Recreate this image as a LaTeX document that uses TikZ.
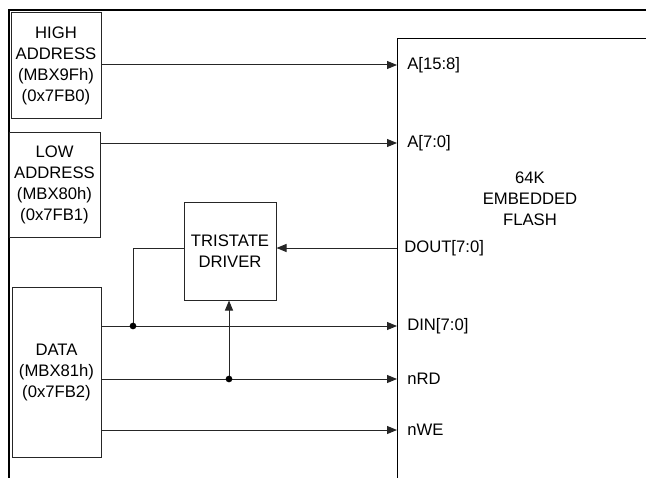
\documentclass[tikz,border=0pt]{standalone}
\usepackage{fontspec}
\setmainfont{Liberation Sans}
\usetikzlibrary{arrows.meta}
\begin{document}
\begin{tikzpicture}[x=0.75pt,y=-0.75pt,
  font=\fontsize{12.5}{15.75}\selectfont,
  box/.style={draw=black!85, line width=0.75pt, inner sep=0pt, align=center},
  wire/.style={line width=0.75pt, draw=black!85},
  arr/.style={wire, -{Triangle[length=7.5pt,width=6pt]}},
  dot/.style={circle, fill=black, inner sep=0pt, minimum size=5pt},
  pin/.style={anchor=west, inner sep=0pt}]
\useasboundingbox (0,0) rectangle (646,478);
% outer frame
\draw[line width=1.6pt] (646,10) -- (9,10) -- (9,478);
% flash block (extends beyond the picture)
\coordinate (fl) at (397,39);
\draw[line width=0.75pt] (646,39) -- (fl) -- (397,478);
\node[align=center, inner sep=0pt] (flash) at (530,199) {64K\\EMBEDDED\\FLASH};
% register boxes
\node[box, minimum width=67.5pt, minimum height=78.75pt] (high) at (56,65.5) {HIGH\\ADDRESS\\(MBX9Fh)\\(0x7FB0)};
\node[box, minimum width=68.25pt, minimum height=78.75pt] (low) at (54.5,184.5) {LOW\\ADDRESS\\(MBX80h)\\(0x7FB1)};
\node[box, minimum width=66.75pt, minimum height=127.5pt] (data) at (56.5,372) {DATA\\(MBX81h)\\(0x7FB2)};
\node[box, minimum width=69pt, minimum height=73.5pt] (tri) at (230,251) {TRISTATE\\DRIVER};
% pin coordinates on the flash edge
\coordinate (pa1) at (397,65);
\coordinate (pa0) at (397,143);
\coordinate (pdout) at (397,248);
\coordinate (pdin) at (397,326);
\coordinate (prd) at (397,379);
\coordinate (pwe) at (397,430);
\coordinate (j1) at (133,326);
\coordinate (j2) at (229,379);
% pin labels
\node[pin] (la1) at (407,65) {A[15:8]};
\node[pin] (la0) at (407,143) {A[7:0]};
\node[pin] (ldout) at (404,248) {DOUT[7:0]};
\node[pin] (ldin) at (407,326) {DIN[7:0]};
\node[pin] (lrd) at (407,379) {nRD};
\node[pin] (lwe) at (407,430) {nWE};
% connectors
\draw[arr] (high.east |- pa1) -- (pa1);
\draw[arr] (low.east |- pa0) -- (pa0);
\draw[arr] (pdout) -- (tri.east |- pdout);
\draw[wire] (tri.west |- pdout) -| (j1);
\draw[arr] (data.east |- pdin) -- (pdin);
\draw[arr] (data.east |- prd) -- (prd);
\draw[arr] (data.east |- pwe) -- (pwe);
\draw[arr] (j2) -- (j2 |- tri.south);
\node[dot] (d1) at (j1) {};
\node[dot] (d2) at (j2) {};
\end{tikzpicture}
\end{document}
